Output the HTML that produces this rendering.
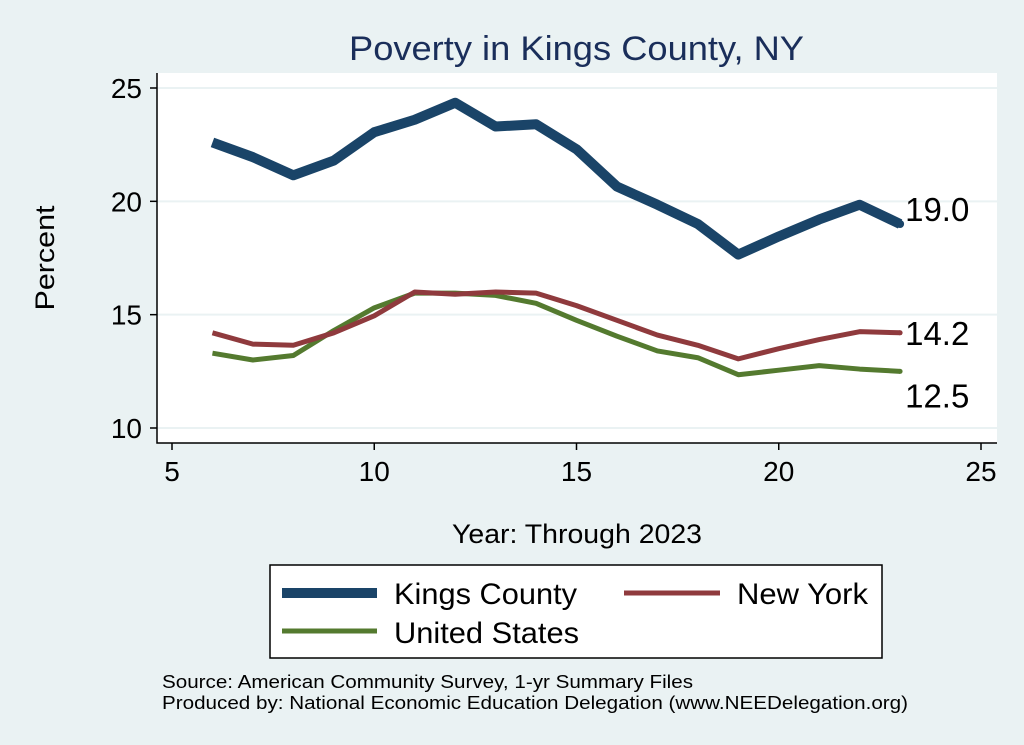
<!DOCTYPE html>
<html><head><meta charset="utf-8"><style>
body{margin:0;background:#eaf2f3;}
svg{display:block;font-family:"Liberation Sans",Arial,sans-serif;}
</style></head><body>
<svg id="c" width="1024" height="745" viewBox="0 0 1024 745">
<rect x="0" y="0" width="1024" height="745" fill="#eaf2f3"/>
<rect x="157" y="73" width="840" height="370" fill="#fff"/>
<text x="349" y="60" font-size="34" textLength="455" lengthAdjust="spacingAndGlyphs" fill="#1a2e5a">Poverty in Kings County, NY</text>
<g id="grid"></g><g id="axes"></g><g id="series"></g>
<text x="54" y="258" text-anchor="middle" font-size="27" textLength="105" lengthAdjust="spacingAndGlyphs" transform="rotate(-90 54 258)">Percent</text>
<text x="452" y="543" font-size="27" textLength="250" lengthAdjust="spacingAndGlyphs">Year: Through 2023</text>
<g>
<rect x="270" y="565" width="612" height="93" fill="#fff" stroke="#000" stroke-width="1.5"/>
<line x1="282" y1="593" x2="377" y2="593" stroke="#1a4468" stroke-width="10"/>
<text x="394" y="604" font-size="30" textLength="183" lengthAdjust="spacingAndGlyphs">Kings County</text>
<line x1="624" y1="593" x2="720" y2="593" stroke="#8f3a3d" stroke-width="5"/>
<text x="737" y="604" font-size="30" textLength="131" lengthAdjust="spacingAndGlyphs">New York</text>
<line x1="282" y1="631" x2="377" y2="631" stroke="#547a2f" stroke-width="5"/>
<text x="394" y="643" font-size="30" textLength="185" lengthAdjust="spacingAndGlyphs">United States</text>
</g>
<text x="162" y="688" font-size="18" textLength="531" lengthAdjust="spacingAndGlyphs">Source: American Community Survey, 1-yr Summary Files</text>
<text x="162" y="709" font-size="18" textLength="746" lengthAdjust="spacingAndGlyphs">Produced by: National Economic Education Delegation (www.NEEDelegation.org)</text>
</svg>
<script>
const years=[6,7,8,9,10,11,12,13,14,15,16,17,18,19,20,21,22,23];
const kings=[22.6,21.95,21.15,21.8,23.05,23.6,24.35,23.3,23.4,22.3,20.65,19.85,19.0,17.65,18.45,19.2,19.85,19.0];
const newYork=[14.2,13.7,13.65,14.2,14.95,16.0,15.9,16.0,15.95,15.4,14.75,14.1,13.65,13.05,13.5,13.9,14.25,14.2];
const unitedStates=[13.3,13.0,13.2,14.3,15.3,15.95,15.95,15.85,15.5,14.75,14.05,13.4,13.1,12.35,12.55,12.75,12.6,12.5];
const xTicks=[5,10,15,20,25];
const yTicks=[10,15,20,25];
const NS="http://www.w3.org/2000/svg";
const X=v=>172+(v-5)*(981-172)/20;
const Y=v=>428-(v-10)*(428-88)/15;
function mk(tag,attrs,parent){const e=document.createElementNS(NS,tag);for(const k in attrs)e.setAttribute(k,attrs[k]);document.getElementById(parent).appendChild(e);return e;}
yTicks.forEach(t=>{
 const g=mk('line',{x1:157,x2:997,y1:Y(t),y2:Y(t),stroke:'#eaf2f3','stroke-width':2},'grid');
 
 
 const tk=mk('line',{x1:150,x2:157,y1:Y(t),y2:Y(t),stroke:'#000','stroke-width':1.5},'axes');
 
 
 const l=mk('text',{x:142,y:Y(t)+10,'text-anchor':'end','font-size':28},'axes');l.textContent=t;
 
 
});
xTicks.forEach(t=>{
 const tk=mk('line',{x1:X(t),x2:X(t),y1:443,y2:450,stroke:'#000','stroke-width':1.5},'axes');
 
 
 const l=mk('text',{x:X(t),y:481,'text-anchor':'middle','font-size':28},'axes');l.textContent=t;
 
 
});
const ax=mk('path',{d:'M157 73 V443 H997',fill:'none',stroke:'#000','stroke-width':1.5},'axes');


function series(vals,color,w,name,labOff){
 const p=mk('polyline',{points:years.map((y,i)=>X(y)+','+Y(vals[i])).join(' '),fill:'none',stroke:color,'stroke-width':w,'stroke-linejoin':'round'},'series');
 
 
 const last=vals[vals.length-1];
 const c=mk('circle',{cx:X(years[years.length-1]),cy:Y(last),r:Math.max(2.5,w/2-1),fill:color},'series');
 
 
 const t=mk('text',{x:X(years[years.length-1])+5,y:Y(last)+labOff,'font-size':33},'series');t.textContent=last.toFixed(1);
 
 
}
series(unitedStates,'#547a2f',5,'us',36);
series(newYork,'#8f3a3d',5,'ny',12);
series(kings,'#1a4468',10,'kings',-3);
</script>
</body></html>
